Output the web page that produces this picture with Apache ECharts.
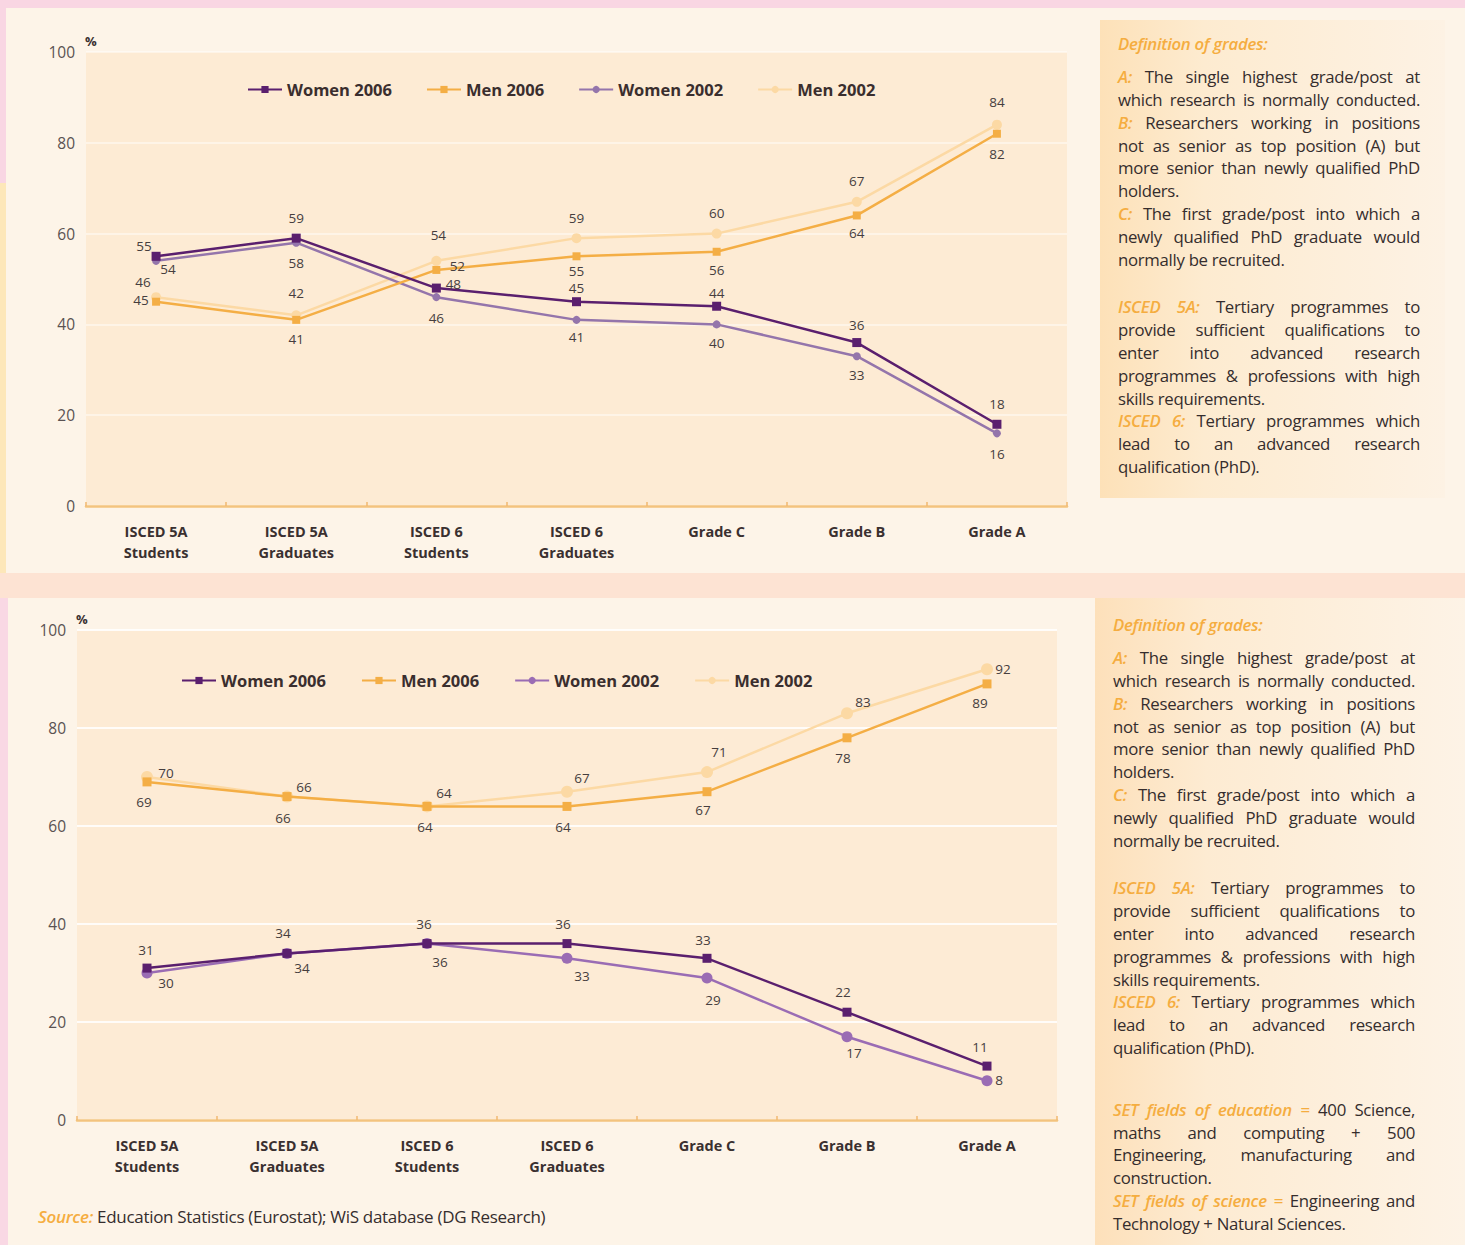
<!DOCTYPE html>
<html><head><meta charset="utf-8">
<script src="https://cdn.jsdelivr.net/npm/echarts@6/dist/echarts.min.js"></script>
<style>
html,body{margin:0;padding:0;}
body{width:1465px;height:1245px;position:relative;overflow:hidden;background:#fde3d3;font-family:"Open Sans","Noto Sans",sans-serif;}
.abs{position:absolute;}
.box{position:absolute;color:#352d2d;font-size:16.8px;line-height:22.8px;letter-spacing:-0.3px;}
.box div{white-space:nowrap;}
.box div.j{text-align:justify;text-align-last:justify;}
.o{color:#f5ad40;font-style:italic;font-weight:600;}
.t{color:#f5ad40;font-style:italic;font-weight:600;}
.src{position:absolute;color:#352d2d;font-size:17px;line-height:22px;letter-spacing:-0.3px;white-space:nowrap;}
#chart{position:absolute;left:0;top:0;width:1465px;height:1245px;}
</style></head>
<body>
<div class="abs" style="left:0;top:0;width:1465px;height:8px;background:#f9d6e3"></div>
<div class="abs" style="left:0;top:8px;width:6px;height:175px;background:#f9d6e3"></div>
<div class="abs" style="left:0;top:183px;width:6px;height:390px;background:#fde7b9"></div>
<div class="abs" style="left:6px;top:8px;width:1459px;height:565px;background:#fdf4e8"></div>
<div class="abs" style="left:0;top:598px;width:8px;height:647px;background:#f9d8e4"></div>
<div class="abs" style="left:8px;top:598px;width:1457px;height:647px;background:#fdf4e8"></div>
<div class="abs" style="left:1100px;top:20px;width:345px;height:478px;background:linear-gradient(90deg,#fde1b8 0%,#fdebd0 30%,#fdf2e4 100%)"></div>
<div class="abs" style="left:1095px;top:598px;width:370px;height:647px;background:linear-gradient(90deg,#fde0ba 0%,#fdebd2 30%,#fdf3e6 100%)"></div>

<div class="box" style="left:1118px;top:32.5px;width:302px;">
<div class="t">Definition of grades:</div>
<div style="height:11px"></div>
<div class="j"><span class="o">A:</span> The single highest grade/post at</div>
<div class="j">which research is normally conducted.</div>
<div class="j"><span class="o">B:</span> Researchers working in positions</div>
<div class="j">not as senior as top position (A) but</div>
<div class="j">more senior than newly qualified PhD</div>
<div>holders.</div>
<div class="j"><span class="o">C:</span> The first grade/post into which a</div>
<div class="j">newly qualified PhD graduate would</div>
<div>normally be recruited.</div>
<div style="height:25px"></div>
<div class="j"><span class="o">ISCED 5A:</span> Tertiary programmes to</div>
<div class="j">provide sufficient qualifications to</div>
<div class="j">enter into advanced research</div>
<div class="j">programmes &amp; professions with high</div>
<div>skills requirements.</div>
<div class="j"><span class="o">ISCED 6:</span> Tertiary programmes which</div>
<div class="j">lead to an advanced research</div>
<div>qualification (PhD).</div>
</div>

<div class="box" style="left:1113px;top:613.5px;width:302px;">
<div class="t">Definition of grades:</div>
<div style="height:11px"></div>
<div class="j"><span class="o">A:</span> The single highest grade/post at</div>
<div class="j">which research is normally conducted.</div>
<div class="j"><span class="o">B:</span> Researchers working in positions</div>
<div class="j">not as senior as top position (A) but</div>
<div class="j">more senior than newly qualified PhD</div>
<div>holders.</div>
<div class="j"><span class="o">C:</span> The first grade/post into which a</div>
<div class="j">newly qualified PhD graduate would</div>
<div>normally be recruited.</div>
<div style="height:25px"></div>
<div class="j"><span class="o">ISCED 5A:</span> Tertiary programmes to</div>
<div class="j">provide sufficient qualifications to</div>
<div class="j">enter into advanced research</div>
<div class="j">programmes &amp; professions with high</div>
<div>skills requirements.</div>
<div class="j"><span class="o">ISCED 6:</span> Tertiary programmes which</div>
<div class="j">lead to an advanced research</div>
<div>qualification (PhD).</div>
<div style="height:39px"></div>
<div class="j"><span class="o">SET fields of education =</span> 400 Science,</div>
<div class="j">maths and computing + 500</div>
<div class="j">Engineering, manufacturing and</div>
<div>construction.</div>
<div class="j"><span class="o">SET fields of science =</span> Engineering and</div>
<div>Technology + Natural Sciences.</div>
</div>

<div class="src" style="left:38px;top:1206px;"><span class="o">Source:</span> Education Statistics (Eurostat); WiS database (DG Research)</div>

<div id="chart"></div>
<script>
// ---------- data ----------
const categories = ['ISCED 5A\nStudents','ISCED 5A\nGraduates','ISCED 6\nStudents','ISCED 6\nGraduates','Grade C','Grade B','Grade A'];
const yTicks = [0, 20, 40, 60, 80, 100];

// Top chart
const topWomen2006 = [55, 59, 48, 45, 44, 36, 18];
const topMen2006   = [45, 41, 52, 55, 56, 64, 82];
const topWomen2002 = [54, 58, 46, 41, 40, 33, 16];
const topMen2002   = [46, 42, 54, 59, 60, 67, 84];

// Bottom chart
const botWomen2006 = [31, 34, 36, 36, 33, 22, 11];
const botMen2006   = [69, 66, 64, 64, 67, 78, 89];
const botWomen2002 = [30, 34, 36, 33, 29, 17, 8];
const botMen2002   = [70, 66, 64, 67, 71, 83, 92];

// ---------- label placement (offsets from point, px) ----------
const topOffW06 = [[-12,-10],[0,-20],[17,-4],[0,-14],[0,-13],[0,-18],[0,-20]];
const topOffM06 = [[-15,-2],[0,19],[21,-4],[0,15],[0,18],[0,18],[0,20]];
const topOffW02 = [[12,8],[0,20],[0,21],[0,17],[0,19],[0,19],[0,21]];
const topOffM02 = [[-13,-15],[0,-22],[2,-26],[0,-20],[0,-21],[0,-21],[0,-23]];
const botOffW06 = [[-1,-18],[-4,-20],[-3,-20],[-4,-20],[-4,-18],[-4,-20],[-7,-19]];
const botOffW02 = [[19,10],[15,15],[13,18],[15,18],[6,22],[7,16],[12,-1]];
const botOffM06 = [[-3,20],[-4,21],[-2,21],[-4,21],[-4,18],[-4,20],[-7,19]];
const botOffM02 = [[19,-4],[17,-10],[17,-13],[15,-14],[12,-20],[16,-11],[16,0]];

const C = {
  w06: '#5a1f6e', m06: '#f4ae45', w02t: '#9475ab', w02b: '#9a6cb4', m02: '#fcd9a4'
};
const FONT = 'Open Sans';

function mkSeries(name, values, offs, color, symbol, size, idx, z) {
  return {
    type: 'line', name: name, xAxisIndex: idx, yAxisIndex: idx, z: z,
    data: values.map((v, i) => ({ value: v, label: { offset: offs[i] } })),
    symbol: symbol, symbolSize: size, showAllSymbol: true,
    lineStyle: { color: color, width: 2.5 },
    itemStyle: { color: color },
    label: { show: true, position: 'inside', color: '#463e3e', fontSize: 13.5, fontFamily: FONT },
    emphasis: { disabled: true },
    animation: false
  };
}

function xAxis(idx) {
  return {
    type: 'category', gridIndex: idx, data: categories, boundaryGap: true,
    axisLine: { lineStyle: { color: '#f3c37e', width: 2.5 } },
    axisTick: { show: true, inside: true, length: 4, lineStyle: { color: '#f0b870', width: 1.5 } },
    axisLabel: { color: '#3a3030', fontSize: 14.5, fontWeight: 'bold', fontFamily: FONT, lineHeight: 21, margin: 15, interval: 0 },
    splitLine: { show: false }
  };
}
function yAxis(idx, splitColor) {
  return {
    type: 'value', gridIndex: idx, min: yTicks[0], max: yTicks[yTicks.length-1], interval: yTicks[1]-yTicks[0],
    name: '%', nameLocation: 'end', nameGap: 5,
    nameTextStyle: { color: '#3a3030', fontSize: 13, fontWeight: 'bold', align: 'left', fontFamily: FONT, padding: [0,0,0,-1] },
    axisLine: { show: false }, axisTick: { show: false },
    axisLabel: { color: '#5a5252', fontSize: 15.5, fontFamily: FONT, margin: 11 },
    splitLine: { show: true, lineStyle: { color: splitColor, width: 2 } }
  };
}

const legendNames = ['Women 2006', 'Men 2006', 'Women 2002', 'Men 2002'];
const B = ' ';
const legendText = { color: '#3a2e2e', fontSize: 16.5, fontWeight: 'bold', fontFamily: FONT, letterSpacing: -0.3 };
const chart = echarts.init(document.getElementById('chart'), null, { renderer: 'svg' });
chart.setOption({
  animation: false,
  grid: [
    { left: 86, top: 52, width: 981, height: 454, show: true, backgroundColor: '#fdebd4', borderWidth: 0 },
    { left: 77, top: 630, width: 980, height: 490, show: true, backgroundColor: '#fdebd5', borderWidth: 0 }
  ],
  legend: [
    { data: legendNames, left: 247, top: 81, padding: 0, itemWidth: 34, itemHeight: 9, itemGap: 34,
      textStyle: legendText, selectedMode: false },
    { data: legendNames.map(n => n + B), left: 181, top: 672, padding: 0, itemWidth: 34, itemHeight: 9, itemGap: 35,
      formatter: n => n.trim(), textStyle: legendText, selectedMode: false }
  ],
  xAxis: [xAxis(0), xAxis(1)],
  yAxis: [yAxis(0, 'rgba(255,255,255,0.45)'), yAxis(1, 'rgba(255,255,255,0.85)')],
  series: [
    mkSeries('Men 2002', topMen2002, topOffM02, C.m02, 'circle', 10, 0, 2),
    mkSeries('Women 2002', topWomen2002, topOffW02, C.w02t, 'circle', 8, 0, 3),
    mkSeries('Men 2006', topMen2006, topOffM06, C.m06, 'rect', 8, 0, 4),
    mkSeries('Women 2006', topWomen2006, topOffW06, C.w06, 'rect', 9, 0, 5),
    mkSeries('Men 2002' + B, botMen2002, botOffM02, C.m02, 'circle', 12, 1, 2),
    mkSeries('Women 2002' + B, botWomen2002, botOffW02, C.w02b, 'circle', 11, 1, 3),
    mkSeries('Men 2006' + B, botMen2006, botOffM06, C.m06, 'rect', 9, 1, 4),
    mkSeries('Women 2006' + B, botWomen2006, botOffW06, C.w06, 'rect', 9, 1, 5)
  ]
});
</script>
</body></html>
